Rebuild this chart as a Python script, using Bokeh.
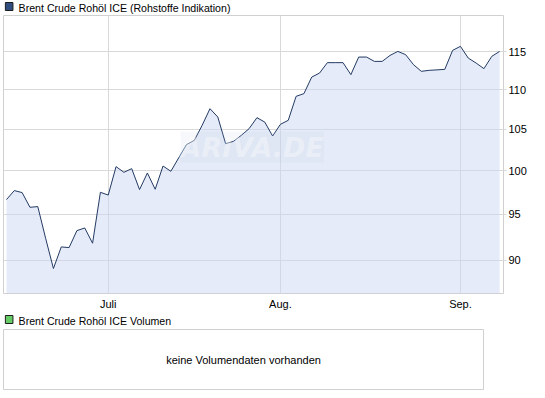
from bokeh.plotting import figure
from bokeh.layouts import column
from bokeh.models import (Range1d, FixedTicker, PrintfTickFormatter, Label, ColumnDataSource)
from bokeh.core.properties import value
from bokeh.embed import file_html
from bokeh.resources import INLINE

# ---- data ----
dates = [
    "2012-06-13", "2012-06-14", "2012-06-15", "2012-06-18", "2012-06-19", "2012-06-20",
    "2012-06-21", "2012-06-22", "2012-06-25", "2012-06-26", "2012-06-27", "2012-06-28",
    "2012-06-29", "2012-07-02", "2012-07-03", "2012-07-04", "2012-07-05", "2012-07-06",
    "2012-07-09", "2012-07-10", "2012-07-11", "2012-07-12", "2012-07-13", "2012-07-16",
    "2012-07-17", "2012-07-18", "2012-07-19", "2012-07-20", "2012-07-23", "2012-07-24",
    "2012-07-25", "2012-07-26", "2012-07-27", "2012-07-30", "2012-07-31", "2012-08-01",
    "2012-08-02", "2012-08-03", "2012-08-06", "2012-08-07", "2012-08-08", "2012-08-09",
    "2012-08-10", "2012-08-13", "2012-08-14", "2012-08-15", "2012-08-16", "2012-08-17",
    "2012-08-20", "2012-08-21", "2012-08-22", "2012-08-23", "2012-08-24", "2012-08-27",
    "2012-08-28", "2012-08-29", "2012-08-30", "2012-08-31", "2012-09-03", "2012-09-04",
    "2012-09-05", "2012-09-06", "2012-09-07", "2012-09-10",
]
prices = [
    96.65, 97.68, 97.45, 95.78, 95.86, 92.36, 89.13, 91.42, 91.35, 93.19, 93.48, 91.82,
    97.48, 97.17, 100.47, 99.80, 100.23, 97.79, 99.72, 97.83, 100.54, 99.92, 101.51, 103.10,
    103.62, 105.47, 107.55, 106.50, 103.22, 103.50, 104.23, 105.06, 106.42, 105.87, 104.15,
    105.59, 106.09, 109.12, 109.47, 111.62, 112.15, 113.53, 113.53, 113.53, 111.94, 114.28,
    114.28, 113.70, 113.70, 114.50, 115.04, 114.60, 113.26, 112.38, 112.51, 112.57, 112.64,
    115.18, 115.73, 114.14, 113.48, 112.73, 114.37, 115.04,
]
month_ticks = ["2012-07-02", "2012-08-01", "2012-09-03"]
month_labels = ["Juli", "Aug.", "Sep."]
y_ticks = [90, 95, 100, 105, 110, 115]
price_title = "Brent Crude Rohöl ICE (Rohstoffe Indikation)"
volume_title = "Brent Crude Rohöl ICE Volumen"
no_volume_text = "keine Volumendaten vorhanden"

FONT = "Liberation Sans"
GRID = "#d9d9d9"
y_lo, y_hi = 86.55, 120.0

x = list(range(len(dates)))
src = ColumnDataSource(dict(x=x, y=prices, base=[y_lo] * len(x)))


def header(text, color, h):
    # a strip holding the coloured square and the series name (pixel coordinates, y downwards)
    hp = figure(width=530, height=h, x_range=Range1d(0, 530), y_range=Range1d(h, 0),
                x_axis_type=None, y_axis_type=None, output_backend="svg",
                toolbar_location=None, min_border=0)
    hp.outline_line_color = None
    hp.rect(x=[6], y=[h - 9], width=8, height=8, fill_color=color, line_color="#1c1c1c",
            line_width=1)
    hp.text(x=[16], y=[h - 8], text=[text], text_baseline="middle", text_align="left",
            text_font=value(FONT), text_font_size="10.6px", text_color="black")
    return hp


h1 = header(price_title, "#2f4d7e", 15)

# ---- price chart ----
p1 = figure(frame_width=500, frame_height=278, y_axis_type="log",
            x_range=Range1d(-0.38, 63.5), y_range=Range1d(y_lo, y_hi),
            output_backend="svg", toolbar_location=None,
            min_border_left=3, min_border_right=10, min_border_top=0, min_border_bottom=20,
            x_axis_location="below", y_axis_location="right")
p1.outline_line_color = "#d0d0d0"

p1.varea(x="x", y1="base", y2="y", source=src, fill_color="#cbd8f2", fill_alpha=0.5)
p1.line(x="x", y="y", source=src, line_color="#233a63", line_width=1)

tick_idx = [dates.index(d) for d in month_ticks]
p1.xaxis.ticker = FixedTicker(ticks=tick_idx)
p1.xaxis.major_label_overrides = {i: lab for i, lab in zip(tick_idx, month_labels)}
p1.xaxis.axis_line_color = None
p1.xaxis.major_tick_line_color = None
p1.xaxis.major_tick_out = 0
p1.xaxis.major_tick_in = 0
p1.xaxis.minor_tick_line_color = None
p1.xaxis.minor_tick_out = 0
p1.xaxis.major_label_standoff = 4
p1.xaxis.major_label_text_font = FONT
p1.xaxis.major_label_text_font_size = "11px"
p1.xaxis.major_label_text_color = "black"

p1.yaxis.ticker = FixedTicker(ticks=y_ticks)
p1.yaxis.formatter = PrintfTickFormatter(format="%d")
p1.yaxis.axis_line_color = None
p1.yaxis.major_tick_line_color = GRID
p1.yaxis.major_tick_in = 0
p1.yaxis.major_tick_out = 3
p1.yaxis.minor_tick_line_color = None
p1.yaxis.minor_tick_out = 0
p1.yaxis.major_label_standoff = 2
p1.yaxis.major_label_text_font = FONT
p1.yaxis.major_label_text_font_size = "11px"
p1.yaxis.major_label_text_color = "black"

p1.xgrid.grid_line_color = GRID
p1.ygrid.grid_line_color = GRID
p1.ygrid.minor_grid_line_color = None

# watermark
p1.add_layout(Label(x=31.4, y=102.8, text="ARIVA.DE", text_align="center", text_baseline="middle",
                    text_font="DejaVu Sans", text_font_style="bold italic", text_font_size="27px",
                    text_color="white", text_alpha=0.35,
                    background_fill_color="#b8c6e0", background_fill_alpha=0.12))

h2 = header(volume_title, "#66cc66", 15)

# ---- volume panel ----
p2 = figure(frame_width=480, frame_height=60, x_axis_type=None, y_axis_type=None,
            x_range=Range1d(0, 1), y_range=Range1d(0, 1),
            output_backend="svg", toolbar_location=None,
            min_border_left=3, min_border_right=10, min_border_top=1, min_border_bottom=1)
p2.outline_line_color = "#d0d0d0"
p2.text(x=[0.5], y=[0.5], text=[no_volume_text], text_align="center", text_baseline="middle",
        text_font_size="11px", text_color="black", text_font=value(FONT))

layout = column(h1, p1, h2, p2, spacing=0)
open("out.html", "w").write(file_html(layout, INLINE))
